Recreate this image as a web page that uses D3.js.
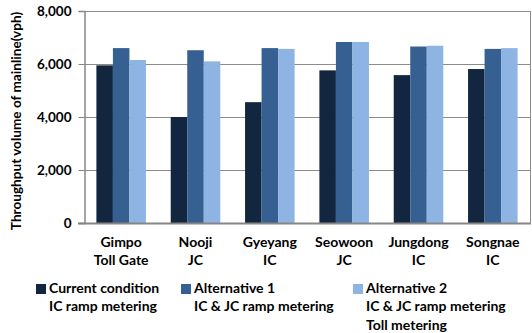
<!DOCTYPE html>
<html>
<head>
<meta charset="utf-8">
<script src="https://cdn.jsdelivr.net/npm/d3@7"></script>
<style>
  html, body { margin: 0; padding: 0; background: #fff; }
  svg { display: block; }
  text { font-family: Lato, "Open Sans", sans-serif; font-weight: 700; fill: #000; }
</style>
</head>
<body>
<svg id="chart" width="532" height="333"></svg>
<script>
// Interchanges / junctions along the mainline (two-line labels)
const categories = ["Gimpo|Toll Gate", "Nooji|JC", "Gyeyang|IC", "Seowoon|JC", "Jungdong|IC", "Songnae|IC"];
// Throughput volume of mainline (vph) per scenario
const currentCondition = [5950, 4000, 4560, 5760, 5580, 5810];
const alternative1 = [6600, 6520, 6600, 6830, 6660, 6570];
const alternative2 = [6150, 6100, 6570, 6830, 6690, 6600];
const seriesNames = ["Current condition|IC ramp metering", "Alternative 1|IC & JC ramp metering", "Alternative 2|IC & JC ramp metering|Toll metering"];
const yTicks = [0, 2000, 4000, 6000, 8000];
const colors = ["#13263f", "#376092", "#8eb4e3"];

const series = [currentCondition, alternative1, alternative2];
const svg = d3.select("#chart");
const m = { left: 84, top: 11, right: 530, bottom: 223 };

// category bands; Excel-style gap width 150% gives bar width = band/4.5
const x = d3.scaleBand().domain(categories).range([m.left, m.right]);
const barW = x.bandwidth() / 4.5;
const xs = d3.scaleBand().domain(d3.range(series.length)).range([0, 3 * barW]);
const y = d3.scaleLinear().domain([0, 8000]).range([m.bottom, m.top]);

// gridlines
svg.append("g").selectAll("line").data(yTicks.filter(t => t > 0)).join("line")
  .attr("x1", m.left).attr("x2", m.right)
  .attr("y1", d => y(d) + 0.5).attr("y2", d => y(d) + 0.5)
  .attr("stroke", "#8c8c8c").attr("stroke-width", 1);

// plot frame right edge
svg.append("line").attr("x1", m.right + 0.5).attr("x2", m.right + 0.5)
  .attr("y1", m.top).attr("y2", m.bottom).attr("stroke", "#8c8c8c");

// bars
series.forEach((vals, s) => {
  svg.append("g").selectAll("rect").data(vals).join("rect")
    .attr("x", (d, i) => x(categories[i]) + (x.bandwidth() - 3 * barW) / 2 + xs(s))
    .attr("width", xs.bandwidth())
    .attr("y", d => y(d))
    .attr("height", d => y(0) - y(d))
    .attr("fill", colors[s]);
});

// y axis
const yAxis = d3.axisLeft(y).tickValues(yTicks).tickSize(6).tickPadding(7).tickFormat(d3.format(","));
const gy = svg.append("g").attr("transform", `translate(${m.left + 0.5},0)`).call(yAxis);
gy.select(".domain").attr("stroke", "#868686").attr("stroke-width", 1.5);
gy.selectAll(".tick line").attr("stroke", "#868686");
gy.selectAll(".tick text").style("font-size", "13.5px").attr("fill", "#000");

// x axis baseline
svg.append("line").attr("x1", m.left - 6).attr("x2", m.right + 1)
  .attr("y1", m.bottom + 0.5).attr("y2", m.bottom + 0.5)
  .attr("stroke", "#868686").attr("stroke-width", 2);

// category labels
categories.forEach(c => {
  const cx = x(c) + x.bandwidth() / 2;
  c.split("|").forEach((ln, j) => {
    svg.append("text").attr("x", cx).attr("y", 243 + j * 18.7)
      .attr("text-anchor", "middle").attr("dominant-baseline", "middle")
      .style("font-size", "14px").text(ln);
  });
});

// y axis title
svg.append("text")
  .attr("transform", `translate(18,${(m.top + m.bottom) / 2 + 4}) rotate(-90)`)
  .attr("text-anchor", "middle").attr("dominant-baseline", "middle")
  .style("font-size", "13.6px").text("Throughput volume of mainline(vph)");

// legend
const legX = [36, 181, 353];
seriesNames.forEach((nm, s) => {
  svg.append("rect").attr("x", legX[s]).attr("y", 284).attr("width", 10).attr("height", 10).attr("fill", colors[s]);
  nm.split("|").forEach((ln, j) => {
    svg.append("text").attr("x", legX[s] + 13).attr("y", 289 + j * 18.8)
      .attr("dominant-baseline", "middle").style("font-size", "14px").text(ln);
  });
});
</script>
</body>
</html>
